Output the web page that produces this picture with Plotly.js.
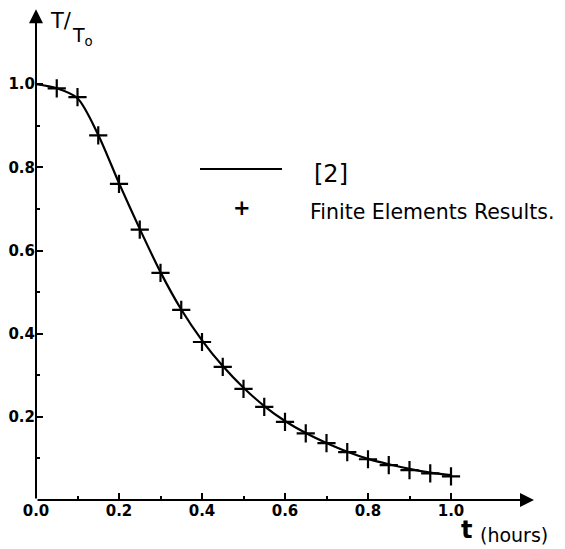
<!DOCTYPE html>
<html><head><meta charset="utf-8">
<script src="https://cdn.plot.ly/plotly-3.0.1.min.js"></script>
<style>html,body{margin:0;padding:0;background:#fff}</style>
</head><body><div id="chart" style="width:565px;height:549px"></div>
<script>
// Analytical solution [2] (smooth curve)
const lineT = [0.0, 0.05, 0.1, 0.15, 0.2, 0.25, 0.3, 0.35, 0.4, 0.45, 0.5, 0.55, 0.6, 0.65, 0.7, 0.75, 0.8, 0.85, 0.9, 0.95, 1.0];
const lineV = [1.0, 0.99, 0.966, 0.878, 0.762, 0.652, 0.548, 0.458, 0.384, 0.322, 0.27, 0.226, 0.19, 0.161, 0.137, 0.116, 0.099, 0.086, 0.075, 0.066, 0.06];
// Finite element results (+ markers)
const feT = [0.05, 0.1, 0.15, 0.2, 0.25, 0.3, 0.35, 0.4, 0.45, 0.5, 0.55, 0.6, 0.65, 0.7, 0.75, 0.8, 0.85, 0.9, 0.95, 1.0];
const feV = [0.99, 0.969, 0.877, 0.76, 0.65, 0.546, 0.457, 0.38, 0.32, 0.267, 0.224, 0.188, 0.16, 0.137, 0.115, 0.098, 0.084, 0.072, 0.064, 0.057];
const xTicks = [0, 0.2, 0.4, 0.6, 0.8, 1.0];
const xTickText = ['0.0', '0.2', '0.4', '0.6', '0.8', '1.0'];
const yTicks = [0.2, 0.4, 0.6, 0.8, 1.0];
const yTickText = ['0.2', '0.4', '0.6', '0.8', '1.0'];
const minorTicks = [0.1, 0.3, 0.5, 0.7, 0.9];

const F = 'DejaVu Sans, sans-serif';
const traces = [
  {x: lineT, y: lineV, mode: 'lines', line: {color: '#000', width: 2.2, shape: 'spline', smoothing: 0.8}, showlegend: false, hoverinfo: 'skip'},
  {x: feT, y: feV, mode: 'markers', marker: {symbol: 'cross-thin', size: 13, color: '#000', line: {color: '#000', width: 2.2}}, showlegend: false}
];
const px = v => (v - 36) / 498;
const py = v => (500 - v) / 499;
const layout = {
  width: 565, height: 549,
  margin: {l: 36, r: 31, t: 1, b: 49},
  paper_bgcolor: '#fff', plot_bgcolor: '#fff',
  showlegend: false,
  xaxis: {range: [0, 1.2], showgrid: false, zeroline: false, showline: false,
    tickvals: xTicks, ticktext: xTickText, ticks: 'inside', ticklen: 7, tickwidth: 2, tickcolor: '#000',
    minor: {tickvals: minorTicks, ticks: 'inside', ticklen: 4, tickwidth: 2, tickcolor: '#000'},
    tickfont: {family: F, size: 15, color: '#000', weight: 'bold'}},
  yaxis: {range: [0, 1.2], showgrid: false, zeroline: false, showline: false,
    tickvals: yTicks, ticktext: yTickText, ticks: 'inside', ticklen: 7, tickwidth: 2, tickcolor: '#000',
    minor: {tickvals: minorTicks, ticks: 'inside', ticklen: 4, tickwidth: 2, tickcolor: '#000'},
    tickfont: {family: F, size: 15, color: '#000', weight: 'bold'}},
  shapes: [
    {type: 'line', xref: 'paper', yref: 'paper', x0: px(200), x1: px(282), y0: py(169), y1: py(169), line: {color: '#000', width: 2}}
  ],
  annotations: [
    // axes with arrowheads
    {xref: 'x', yref: 'y', axref: 'x', ayref: 'y', x: 1.2, y: 0, ax: 0, ay: 0, text: '', showarrow: true, arrowhead: 2, arrowsize: 1.4, arrowwidth: 2, arrowcolor: '#000'},
    {xref: 'x', yref: 'y', axref: 'x', ayref: 'y', x: 0, y: 1.18, ax: 0, ay: 0, text: '', showarrow: true, arrowhead: 2, arrowsize: 1.4, arrowwidth: 2, arrowcolor: '#000'},
    // legend texts
    {xref: 'paper', yref: 'paper', x: px(312), y: py(174), xanchor: 'left', yanchor: 'middle', text: '[2]', showarrow: false, font: {family: F, size: 24, color: '#000'}},
    {xref: 'paper', yref: 'paper', x: px(242), y: py(208), xanchor: 'center', yanchor: 'middle', text: '+', showarrow: false, font: {family: F, size: 21, color: '#000', weight: 'bold'}},
    {xref: 'paper', yref: 'paper', x: px(308), y: py(212), xanchor: 'left', yanchor: 'middle', text: 'Finite Elements Results.', showarrow: false, font: {family: F, size: 20.5, color: '#000'}},
    // y title
    {xref: 'paper', yref: 'paper', x: px(48), y: py(21), xanchor: 'left', yanchor: 'middle', text: 'T/', showarrow: false, font: {family: F, size: 21, color: '#000'}},
    {xref: 'paper', yref: 'paper', x: px(70), y: py(37), xanchor: 'left', yanchor: 'middle', text: 'T<sub>o</sub>', showarrow: false, font: {family: F, size: 19, color: '#000'}},
    // x title
    {xref: 'paper', yref: 'paper', x: px(459), y: py(530), xanchor: 'left', yanchor: 'middle', text: 't', showarrow: false, font: {family: F, size: 24, color: '#000', weight: 'bold'}},
    {xref: 'paper', yref: 'paper', x: px(478), y: py(535), xanchor: 'left', yanchor: 'middle', text: '(hours)', showarrow: false, font: {family: F, size: 19, color: '#000'}}
  ]
};
Plotly.newPlot('chart', traces, layout, {staticPlot: true, displayModeBar: false});
</script></body></html>
